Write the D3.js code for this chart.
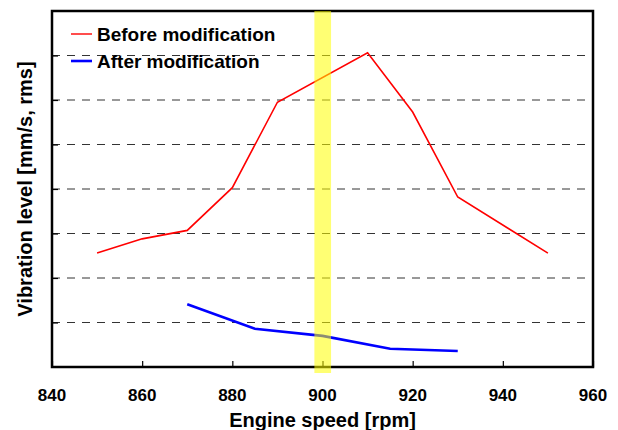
<!DOCTYPE html>
<html>
<head>
<meta charset="utf-8">
<script src="https://cdn.jsdelivr.net/npm/d3@7.9.0/dist/d3.min.js"></script>
<style>
  html, body { margin: 0; padding: 0; background: #fff; }
  svg { display: block; font-family: "Liberation Sans", Arial, sans-serif; font-weight: bold; }
</style>
</head>
<body>
<div id="chart"></div>
<script>
// engine speed [rpm] and vibration level (arbitrary units, no y labels in the original)
const beforeRpm   = [850, 860, 870, 880, 890, 910, 920, 930, 950];
const beforeLevel = [2.56, 2.88, 3.07, 4.03, 5.95, 7.06, 5.73, 3.82, 2.56];
const afterRpm    = [870, 885, 900, 915, 930];
const afterLevel  = [1.41, 0.86, 0.70, 0.41, 0.36];
const xTicks      = [840, 860, 880, 900, 920, 940, 960];
const gridLevels  = [1, 2, 3, 4, 5, 6, 7];
const bandRpm     = [898.2, 901.9];
const seriesNames = ['Before modification', 'After modification'];
const seriesColors = ['#ff0000', '#0000ff'];

const W = 618, H = 430, M = {t: 11, r: 25, b: 63, l: 52};

const x = d3.scaleLinear().domain([840, 960]).range([M.l, W - M.r]);
const y = d3.scaleLinear().domain([0, 8]).range([H - M.b, M.t]);

const svg = d3.select('#chart').append('svg')
  .attr('width', W).attr('height', H);

// dashed gridlines
svg.append('g').selectAll('line')
  .data(gridLevels)
  .join('line')
    .attr('x1', x(840)).attr('x2', x(960))
    .attr('y1', d => y(d)).attr('y2', d => y(d))
    .attr('stroke', '#333').attr('stroke-width', 1)
    .attr('stroke-dasharray', '8,7');

// inward ticks
svg.append('g')
  .attr('transform', `translate(0,${y(0)})`)
  .call(d3.axisTop(x).tickValues(xTicks).tickSize(6).tickFormat(''))
  .call(g => g.select('.domain').remove())
  .call(g => g.selectAll('line').attr('stroke', '#000').attr('stroke-width', 1.2));

svg.append('g')
  .attr('transform', `translate(${x(840)},0)`)
  .call(d3.axisRight(y).tickValues(gridLevels).tickSize(6).tickFormat(''))
  .call(g => g.select('.domain').remove())
  .call(g => g.selectAll('line').attr('stroke', '#000').attr('stroke-width', 1.2));

// tick labels
svg.append('g').selectAll('text')
  .data(xTicks)
  .join('text')
    .attr('x', d => x(d))
    .attr('y', 401)
    .attr('text-anchor', 'middle')
    .attr('font-size', 17)
    .text(d => d);

const line = d3.line().x(d => x(d[0])).y(d => y(d[1]));

svg.append('path')
  .datum(d3.zip(beforeRpm, beforeLevel))
  .attr('d', line)
  .attr('fill', 'none')
  .attr('stroke', seriesColors[0])
  .attr('stroke-width', 1.6);

svg.append('path')
  .datum(d3.zip(afterRpm, afterLevel))
  .attr('d', line)
  .attr('fill', 'none')
  .attr('stroke', seriesColors[1])
  .attr('stroke-width', 2.6);

// frame
svg.append('rect')
  .attr('x', x(840)).attr('y', y(8))
  .attr('width', x(960) - x(840)).attr('height', y(0) - y(8))
  .attr('fill', 'none').attr('stroke', '#000').attr('stroke-width', 2.5);

// highlight band on top
svg.append('rect')
  .attr('x', x(bandRpm[0]))
  .attr('y', y(8))
  .attr('width', x(bandRpm[1]) - x(bandRpm[0]))
  .attr('height', y(0) - y(8) + 6)
  .attr('fill', '#ffff00')
  .attr('fill-opacity', 0.55);

// legend
const legend = svg.append('g');
seriesNames.forEach((name, i) => {
  const ly = 34 + i * 27;
  legend.append('line')
    .attr('x1', 71).attr('x2', 92)
    .attr('y1', ly).attr('y2', ly)
    .attr('stroke', seriesColors[i])
    .attr('stroke-width', i ? 2.6 : 1.4);
  legend.append('text')
    .attr('x', 97).attr('y', ly + 7)
    .attr('font-size', 19)
    .text(name);
});

// axis titles
svg.append('text')
  .attr('x', (x(840) + x(960)) / 2)
  .attr('y', 427)
  .attr('text-anchor', 'middle')
  .attr('font-size', 20)
  .text('Engine speed [rpm]');

svg.append('text')
  .attr('transform', `translate(32,${(y(0) + y(8)) / 2}) rotate(-90)`)
  .attr('text-anchor', 'middle')
  .attr('font-size', 20)
  .text('Vibration level [mm/s, rms]');
</script>
</body>
</html>
